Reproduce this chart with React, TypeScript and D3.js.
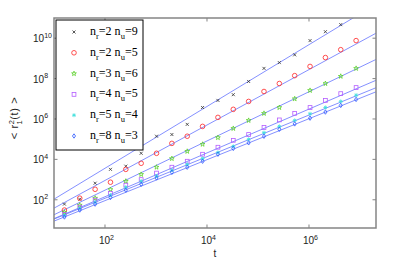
import { useEffect, useRef } from 'react';
import * as d3 from 'd3';

// t = 2^4 ... 2^23
const times = [16, 32, 64, 128, 256, 512, 1024, 2048, 4096, 8192, 16384, 32768, 65536, 131072, 262144, 524288, 1048576, 2097152, 4194304, 8388608];

const nR = [2, 2, 3, 4, 5, 8];
const nU = [9, 5, 6, 5, 4, 3];

const msd29 = [61, 107, 660, 3200, 4600, 2.0e4, 1.4e5, 1.7e5, 5.4e5, 3.7e6, 8.3e6, 1.6e7, 7.2e7, 3.2e8, 6.2e8, 1.5e9, 7.6e9, 2.1e10, 4.7e10];
const msd25 = [31, 120, 330, 740, 3200, 6400, 2.0e4, 6.2e4, 1.4e5, 4.3e5, 1.2e6, 3.0e6, 7.4e6, 2.3e7, 5.7e7, 1.4e8, 4.0e8, 1.1e9, 2.7e9, 7.6e9];
const msd36 = [24, 54, 120, 320, 830, 1800, 4100, 1.1e4, 2.5e4, 5.6e4, 1.2e5, 3.4e5, 8.5e5, 1.9e6, 3.7e6, 1.0e7, 2.6e7, 5.7e7, 1.3e8, 3.2e8];
const msd45 = [19, 43, 96, 210, 530, 1000, 2100, 4100, 8100, 1.8e4, 4.0e4, 8.8e4, 1.7e5, 3.8e5, 9.0e5, 1.9e6, 3.7e6, 8.3e6, 1.8e7, 3.6e7];
const msd54 = [17, 38, 76, 170, 420, 830, 1500, 2900, 5700, 1.1e4, 2.2e4, 4.4e4, 9.8e4, 2.1e5, 4.3e5, 8.5e5, 1.8e6, 3.7e6, 7.4e6, 1.5e7];
const msd83 = [14, 31, 61, 130, 300, 590, 1200, 2300, 4100, 8100, 1.8e4, 3.5e4, 6.6e4, 1.4e5, 3.1e5, 5.7e5, 1.1e6, 2.2e6, 4.7e6, 9.3e6];

// power-law fits: log10 y = intercept + slope * log10 t
const fitSlope = [1.53, 1.372, 1.218, 1.085, 1.03, 1.014];
const fitIntercept = [0.5, 0.213, 0.04, -0.02, 0.014, -0.071];

const xTicks = [1e2, 1e4, 1e6];
const yTicks = [1e2, 1e4, 1e6, 1e8, 1e10];

const seriesValues = [msd29, msd25, msd36, msd45, msd54, msd83];
const markerKinds = ['x', 'o', 'star', 'square', 'asterisk', 'diamond'];
const markerColors = ['#303030', '#ff3b3b', '#5ad02a', '#b45cff', '#3ee0dc', '#2a56ff'];
const lineColor = '#6474ff';

function drawMarker(g, kind, color, x, y) {
  if (kind === 'x') {
    const s = 1.5;
    g.append('path')
      .attr('d', `M${x - s},${y - s}L${x + s},${y + s}M${x - s},${y + s}L${x + s},${y - s}`)
      .attr('stroke', color).attr('stroke-width', 0.8).attr('fill', 'none');
  } else if (kind === 'o') {
    g.append('circle').attr('cx', x).attr('cy', y).attr('r', 2.3)
      .attr('stroke', color).attr('stroke-width', 0.9).attr('fill', 'none');
  } else if (kind === 'star') {
    g.append('path').attr('d', d3.symbol(d3.symbolStar, 7)())
      .attr('transform', `translate(${x},${y})`)
      .attr('stroke', color).attr('stroke-width', 0.8).attr('fill', 'none');
  } else if (kind === 'square') {
    g.append('rect').attr('x', x - 1.9).attr('y', y - 1.9).attr('width', 3.8).attr('height', 3.8)
      .attr('stroke', color).attr('stroke-width', 0.8).attr('fill', 'none');
  } else if (kind === 'asterisk') {
    const s = 2;
    const d = s * 0.7;
    g.append('path')
      .attr('d', `M${x - s},${y}L${x + s},${y}M${x},${y - s}L${x},${y + s}M${x - d},${y - d}L${x + d},${y + d}M${x - d},${y + d}L${x + d},${y - d}`)
      .attr('stroke', color).attr('stroke-width', 0.8).attr('fill', 'none');
  } else {
    const s = 2.2;
    g.append('path')
      .attr('d', `M${x},${y - s}L${x + s * 0.7},${y}L${x},${y + s}L${x - s * 0.7},${y}Z`)
      .attr('stroke', color).attr('stroke-width', 0.8).attr('fill', 'none');
  }
}

function expLabel(sel, exp) {
  sel.append('tspan').text('10');
  sel.append('tspan').attr('font-size', 7).attr('dy', -4.5).text(exp);
}

export default function App() {
  const svgRef = useRef(null);

  useEffect(() => {
    const svg = d3.select(svgRef.current);
    svg.selectAll('*').remove();

    const left = 54, right = 376, top = 18, bottom = 228;

    const x = d3.scaleLog().domain([10, 2.06e7]).range([left, right]);
    const y = d3.scaleLog().domain([4, 1e11]).range([bottom, top]);

    svg.append('defs').append('clipPath').attr('id', 'plotclip')
      .append('rect').attr('x', left).attr('y', top)
      .attr('width', right - left).attr('height', bottom - top);

    const plot = svg.append('g').attr('clip-path', 'url(#plotclip)');

    // fit lines
    const lineGen = d3.line().x(d => x(d[0])).y(d => y(d[1]));
    fitSlope.forEach((m, i) => {
      const ends = x.domain().map(t => [t, Math.pow(10, fitIntercept[i] + m * Math.log10(t))]);
      plot.append('path')
        .attr('d', lineGen(ends))
        .attr('stroke', lineColor).attr('stroke-width', 0.8).attr('fill', 'none');
    });

    // data markers
    seriesValues.forEach((vals, i) => {
      vals.forEach((v, j) => {
        drawMarker(plot, markerKinds[i], markerColors[i], x(times[j]), y(v));
      });
    });

    // axes box
    svg.append('rect')
      .attr('x', left).attr('y', top)
      .attr('width', right - left).attr('height', bottom - top)
      .attr('fill', 'none').attr('stroke', '#858585').attr('stroke-width', 1.5);

    const tickLen = 3.5;
    xTicks.forEach(t => {
      const px = x(t);
      svg.append('line').attr('x1', px).attr('x2', px).attr('y1', bottom).attr('y2', bottom - tickLen)
        .attr('stroke', '#858585').attr('stroke-width', 1);
      svg.append('line').attr('x1', px).attr('x2', px).attr('y1', top).attr('y2', top + tickLen)
        .attr('stroke', '#858585').attr('stroke-width', 1);
      const lbl = svg.append('text')
        .attr('x', px - 6).attr('y', 244)
        .attr('font-family', 'Liberation Sans, Arial, sans-serif')
        .attr('font-size', 10).attr('fill', '#222');
      expLabel(lbl, Math.round(Math.log10(t)));
    });

    yTicks.forEach(t => {
      const py = y(t);
      svg.append('line').attr('x1', left).attr('x2', left + tickLen).attr('y1', py).attr('y2', py)
        .attr('stroke', '#858585').attr('stroke-width', 1);
      svg.append('line').attr('x1', right).attr('x2', right - tickLen).attr('y1', py).attr('y2', py)
        .attr('stroke', '#858585').attr('stroke-width', 1);
      const lbl = svg.append('text')
        .attr('x', 33).attr('y', py + 4)
        .attr('font-family', 'Liberation Sans, Arial, sans-serif')
        .attr('font-size', 10).attr('fill', '#222');
      expLabel(lbl, Math.round(Math.log10(t)));
    });

    // axis labels
    svg.append('text')
      .attr('x', 215).attr('y', 257)
      .attr('text-anchor', 'middle')
      .attr('font-family', 'Liberation Sans, Arial, sans-serif')
      .attr('font-size', 10).attr('fill', '#222')
      .text('t');

    const yl = svg.append('text')
      .attr('transform', 'translate(18,118) rotate(-90)')
      .attr('text-anchor', 'middle')
      .attr('font-family', 'Liberation Sans, Arial, sans-serif')
      .attr('font-size', 11).attr('letter-spacing', 0.6).attr('fill', '#222');
    yl.append('tspan').text('< r');
    yl.append('tspan').attr('font-size', 7.5).attr('dy', -4).text('2');
    yl.append('tspan').attr('font-size', 7.5).attr('dx', -5).attr('dy', 7.5).text('1');
    yl.append('tspan').attr('dy', -3.5).text('(t) >');

    // legend
    const lg = svg.append('g');
    lg.append('rect')
      .attr('x', 56).attr('y', 20).attr('width', 87).attr('height', 130)
      .attr('fill', '#fff').attr('stroke', '#000').attr('stroke-width', 1);

    nR.forEach((r, i) => {
      const cy = 32 + i * 20.8;
      drawMarker(lg, markerKinds[i], markerColors[i], 74, cy);
      const txt = lg.append('text')
        .attr('x', 90).attr('y', cy + 3)
        .attr('font-family', 'Liberation Serif, Times New Roman, serif')
        .attr('font-size', 12).attr('fill', '#000');
      txt.append('tspan').text('n');
      txt.append('tspan').attr('font-size', 8.5).attr('dy', 4).text('r');
      txt.append('tspan').attr('dy', -4).text(`=${r} n`);
      txt.append('tspan').attr('font-size', 8.5).attr('dy', 4).text('u');
      txt.append('tspan').attr('dy', -4).text(`=${nU[i]}`);
    });
  }, []);

  return (
    <svg
      ref={svgRef}
      width={415}
      height={259}
      style={{ position: 'absolute', left: 0, top: 0, background: '#fff' }}
    />
  );
}
